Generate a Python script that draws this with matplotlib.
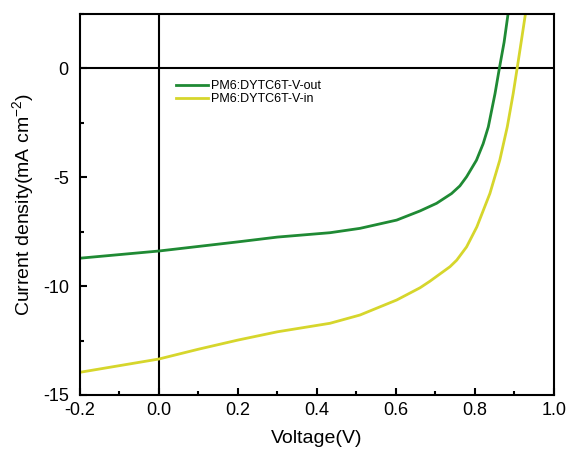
import numpy as np
import matplotlib
matplotlib.use("Agg")
import matplotlib.pyplot as plt
from matplotlib.ticker import MultipleLocator

plt.rcParams['font.family'] = ['Liberation Sans', 'DejaVu Sans']
plt.rcParams['axes.unicode_minus'] = False

# J-V data
v_out = [-0.2, 0.0, 0.1, 0.2, 0.3, 0.433, 0.509, 0.602, 0.661, 0.703, 0.741, 0.762,
         0.779, 0.804, 0.821, 0.834, 0.851, 0.862, 0.874, 0.884]
j_out = [-8.72, -8.39, -8.18, -7.97, -7.75, -7.55, -7.35, -6.97, -6.55, -6.2, -5.75, -5.4,
         -4.98, -4.22, -3.46, -2.69, -1.16, 0.0, 1.2, 2.5]

v_in = [-0.2, 0.0, 0.1, 0.2, 0.3, 0.433, 0.509, 0.602, 0.661, 0.686, 0.737, 0.754, 0.779,
        0.805, 0.838, 0.863, 0.882, 0.897, 0.907, 0.918, 0.928]
j_in = [-13.96, -13.35, -12.9, -12.48, -12.1, -11.71, -11.33, -10.64, -10.08, -9.78, -9.11,
        -8.81, -8.2, -7.28, -5.75, -4.22, -2.69, -1.16, 0.0, 1.3, 2.5]

labels = ['PM6:DYTC6T-V-out', 'PM6:DYTC6T-V-in']
colors = ['#1f8a34', '#d6d62c']

fig, ax = plt.subplots(figsize=(5.71, 4.63), dpi=100)
fig.subplots_adjust(left=0.140, right=0.970, top=0.970, bottom=0.147)

ax.plot(v_out, j_out, color=colors[0], lw=2, label=labels[0], solid_joinstyle='round')
ax.plot(v_in, j_in, color=colors[1], lw=2, label=labels[1], solid_joinstyle='round')

ax.axhline(0, color='black', lw=1.5, zorder=1)
ax.axvline(0, color='black', lw=1.5, zorder=1)

ax.set_xlim(-0.2, 1.0)
ax.set_ylim(-15, 2.5)
ax.xaxis.set_major_locator(MultipleLocator(0.2))
ax.xaxis.set_minor_locator(MultipleLocator(0.1))
ax.yaxis.set_major_locator(MultipleLocator(5))
ax.yaxis.set_minor_locator(MultipleLocator(2.5))
ax.xaxis.set_major_formatter(plt.FormatStrFormatter('%.1f'))
ax.tick_params(which='both', direction='in', width=1.5, labelsize=13)
ax.tick_params(which='major', length=5)
ax.tick_params(which='minor', length=3)
ax.tick_params(axis='y', pad=8)
ax.tick_params(axis='x', pad=5)
for s in ax.spines.values():
    s.set_linewidth(1.5)

ax.set_xlabel('Voltage(V)', fontsize=14, labelpad=8)
ax.set_ylabel('Current density(mA cm$^{\\mathregular{-2}}$)', fontsize=14)

ax.legend(loc='upper left', bbox_to_anchor=(0.18, 0.855), frameon=False, fontsize=9,
          handlelength=2.5, handletextpad=0.3, labelspacing=0.05)

plt.savefig('out.png', dpi=100)
